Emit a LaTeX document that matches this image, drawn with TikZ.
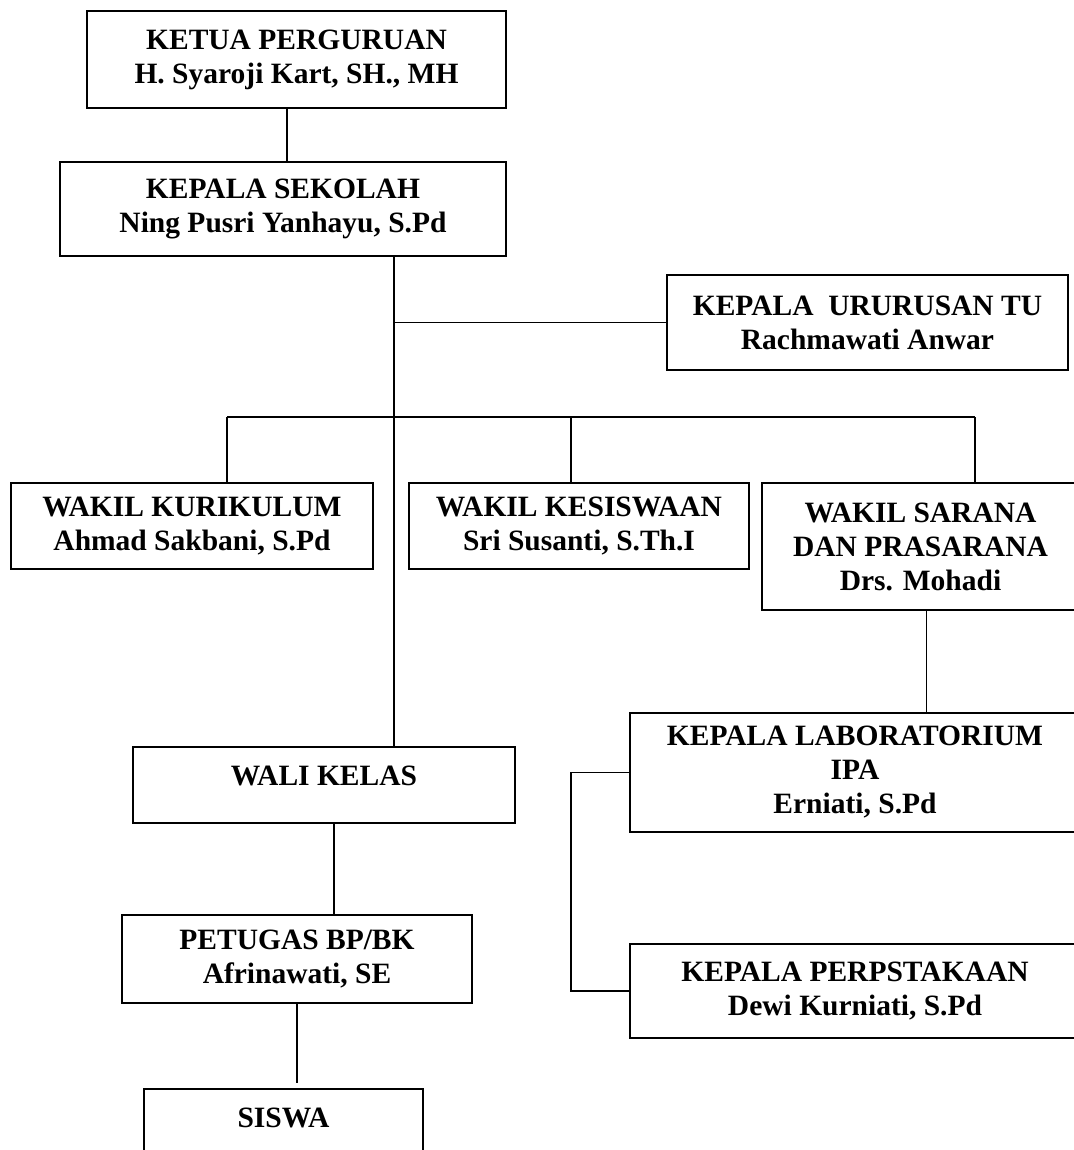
\documentclass[tikz,border=0pt]{standalone}
\usepackage{fontspec}
\setmainfont{Liberation Serif}

\begin{document}
\begin{tikzpicture}[x=1pt,y=-1pt,line width=1.3pt,
	every node/.style={font=\fontsize{29.5}{34}\selectfont\bfseries,align=center}]
	\tikzstyle{unit}=[draw,rectangle,inner sep=0pt,line width=1.8pt]
	\useasboundingbox (0,0) rectangle (1073,1150);
	% boxes
	\node[unit,minimum width=419pt,minimum height=97pt] (ketua) at (296.5,59.5) {KETUA PERGURUAN\\H. Syaroji Kart, SH., MH};
	\node[unit,minimum width=446pt,minimum height=94pt] (kepsek) at (283,209) {KEPALA SEKOLAH\\Ning Pusri Yanhayu, S.Pd};
	\node[unit,minimum width=401pt,minimum height=95pt] (tu) at (867.5,322.5) {KEPALA~~URURUSAN TU\\Rachmawati Anwar};
	\node[unit,minimum width=362pt,minimum height=86pt] (kurikulum) at (192,526) {WAKIL KURIKULUM\\Ahmad Sakbani, S.Pd};
	\node[unit,minimum width=340pt,minimum height=86pt] (kesiswaan) at (579,526) {WAKIL KESISWAAN\\Sri Susanti, S.Th.I};
	\node[unit,minimum width=317pt,minimum height=127pt] (sarana) at (920.5,546.5) {WAKIL SARANA\\DAN PRASARANA\\Drs. Mohadi};
	\node[unit,minimum width=450pt,minimum height=119pt] (lab) at (855,772.5) {KEPALA LABORATORIUM\\IPA\\Erniati, S.Pd};
	\node[unit,minimum width=450pt,minimum height=94pt] (perpus) at (855,991) {KEPALA PERPSTAKAAN\\Dewi Kurniati, S.Pd};
	\node[unit,minimum width=382pt,minimum height=76pt] (wali) at (324,785) {WALI KELAS\\[-16pt]~};
	\node[unit,minimum width=350pt,minimum height=88pt] (petugas) at (297,959) {PETUGAS BP/BK\\Afrinawati, SE};
	\node[unit,minimum width=279pt,minimum height=76pt] (siswa) at (283.5,1127) {SISWA\\[-16pt]~};
	% joints
	\coordinate (tuJoin) at (394,322.5);
	\coordinate (bL) at (227,417);
	\coordinate (bM) at (571,417);
	\coordinate (bR) at (975,417);
	% lines
	\draw ([xshift=4pt]kepsek.north) -- ([xshift=4pt]kepsek.north |- ketua.south);
	\draw (kepsek.south -| tuJoin) -- (wali.north -| tuJoin);
	\draw (tuJoin) -- (tu.west);
	\draw (bL) -- (bR);
	\draw (bL) -- (bL |- kurikulum.north);
	\draw (bM) -- (bM |- kesiswaan.north);
	\draw (bR) -- (bR |- sarana.north);
	\draw ([xshift=6pt]sarana.south) -- ([xshift=6pt]sarana.south |- lab.north);
	\draw (lab.west) -- (lab.west -| bM) |- (perpus.west);
	\draw ([xshift=10pt]wali.south) -- ([xshift=10pt]wali.south |- petugas.north);
	\draw[shorten >=5pt] (petugas.south) -- (petugas.south |- siswa.north);
\end{tikzpicture}
\end{document}
